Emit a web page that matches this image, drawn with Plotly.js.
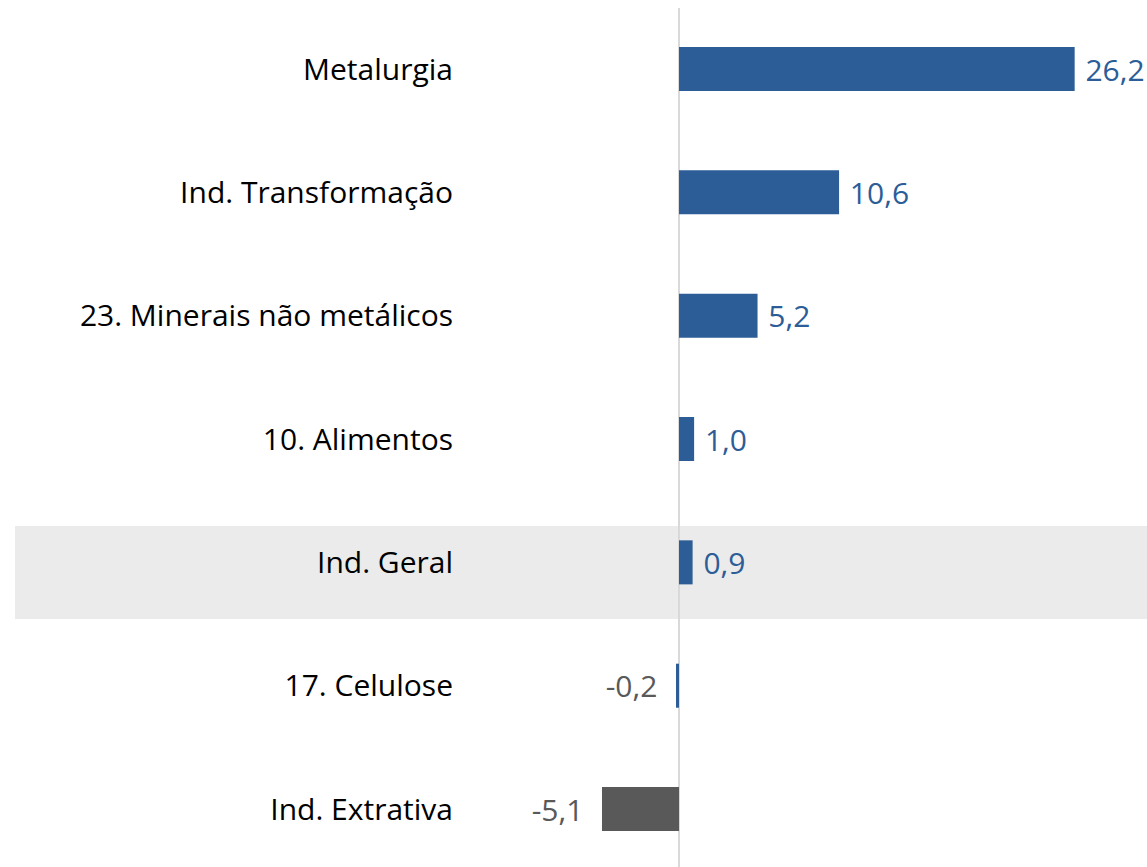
<!DOCTYPE html>
<html>
<head>
<meta charset="utf-8">
<script src="https://cdn.plot.ly/plotly-3.0.1.min.js"></script>
<style>html,body{margin:0;padding:0;background:#fff}#chart{width:1147px;height:867px}</style>
</head>
<body>
<div id="chart"></div>
<script>
const categories = ["Metalurgia", "Ind. Transformação", "23. Minerais não metálicos", "10. Alimentos", "Ind. Geral", "17. Celulose", "Ind. Extrativa"];
const values = [26.2, 10.6, 5.2, 1.0, 0.9, -0.2, -5.1];
const highlighted = "Ind. Geral";

const BLUE = "#2C5D97";
const GREY = "#595959";
const barColors = values.map((v, i) => categories[i] === "Ind. Extrativa" ? GREY : BLUE);
const labelColors = values.map(v => v >= 0 ? BLUE : GREY);
const labels = values.map(v => {
  const s = v.toFixed(1).replace(".", ",");
  return v >= 0 ? "\u00a0" + s : s + "\u00a0\u00a0";
});

const hi = categories.indexOf(highlighted);
const FONT = "Open Sans, Noto Sans, sans-serif";

Plotly.newPlot("chart", [{
  type: "bar",
  orientation: "h",
  y: categories,
  x: values,
  width: 0.357,
  marker: {color: barColors, line: {width: 0}},
  text: labels,
  textposition: "outside",
  textangle: 0,
  constraintext: "none",
  cliponaxis: false,
  textfont: {family: FONT, size: 30, color: labelColors},
  hoverinfo: "x+y"
}], {
  width: 1147, height: 867,
  margin: {l: 454, r: 0, t: 8, b: 0, pad: 0},
  paper_bgcolor: "#ffffff",
  plot_bgcolor: "rgba(0,0,0,0)",
  showlegend: false,
  font: {family: FONT, color: "#000000"},
  xaxis: {
    range: [-14.90, 30.99],
    showgrid: false,
    zeroline: true,
    zerolinecolor: "#d9d9d9",
    zerolinewidth: 2,
    showticklabels: false,
    ticks: "",
    fixedrange: true
  },
  yaxis: {
    type: "category",
    categoryorder: "array",
    categoryarray: categories,
    range: [6.470, -0.4946],
    showgrid: false,
    zeroline: false,
    ticks: "",
    tickfont: {family: FONT, size: 30, color: "#000000"},
    fixedrange: true
  },
  shapes: [{
    type: "rect", layer: "below",
    xref: "paper", yref: "y",
    x0: -0.6335, x1: 1,
    y0: hi - 0.2945, y1: hi + 0.4596,
    fillcolor: "#ebebeb", line: {width: 0}
  }]
}, {displayModeBar: false});
</script>
</body>
</html>
